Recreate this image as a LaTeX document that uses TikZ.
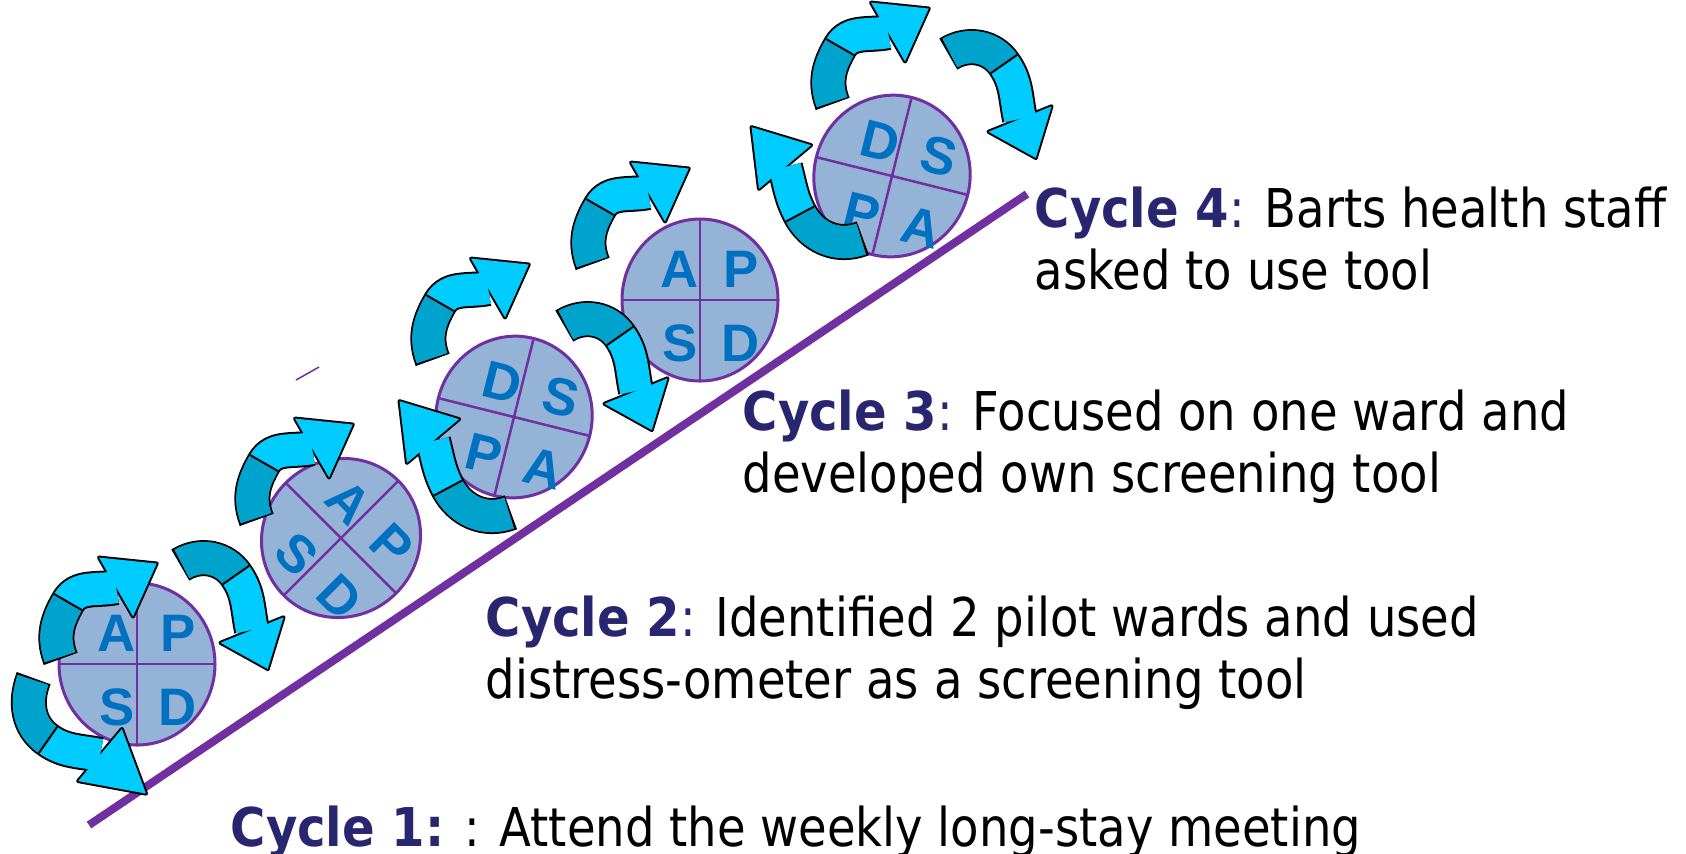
\documentclass[tikz,border=0pt]{standalone}
\usepackage{fontspec}
\setmainfont{DejaVu Sans}[FakeStretch=0.87, BoldFeatures={FakeStretch=0.9}]
\newfontfamily\pdsafont{Liberation Sans}
\usetikzlibrary{calc}

\definecolor{cyclenavy}{RGB}{41,38,112}
\definecolor{wheelfill}{RGB}{149,179,215}
\definecolor{wheelrim}{RGB}{112,48,160}
\definecolor{pdsablue}{RGB}{0,112,192}
\definecolor{arrowlight}{RGB}{0,204,255}
\definecolor{arrowdark}{RGB}{0,163,204}

\tikzset{
  wheel/.style={draw=wheelrim, fill=wheelfill, line width=0.03cm},
  wheelcross/.style={draw=wheelrim, line width=0.025cm},
  pdsaletter/.style={text=pdsablue, font=\pdsafont\bfseries\fontsize{15}{15}\selectfont, inner sep=0pt},
  bandrim/.style={draw=black, line width=0.36cm},
  bandlight/.style={draw=arrowlight, line width=0.32cm},
  banddark/.style={draw=arrowdark, line width=0.32cm},
  headrim/.style={draw=black, fill=black, line width=0.04cm, line join=round},
  twistedge/.style={draw=black, line width=0.02cm},
  cycletext/.style={anchor=base west, align=left, inner sep=0pt, font=\fontsize{15.2}{17.6}\selectfont},
}

\newcommand{\cyc}[1]{\textcolor{cyclenavy}{\textbf{#1}}}

% curved block arrow: start, out angle, mid, mid angle, head base, base angle, head angle, head length
\newcommand{\bentarrow}[8]{%
  \pgfmathsetmacro{\inmid}{#4+180}%
  \pgfmathsetmacro{\inend}{#6+180}%
  \pgfmathsetmacro{\backang}{#2+180}%
  \pgfmathsetmacro{\barbl}{#7+90}%
  \pgfmathsetmacro{\barbr}{#7-90}%
  \pgfmathsetmacro{\midl}{#4+90}%
  \pgfmathsetmacro{\midr}{#4-90}%
  \coordinate (tail) at ($(#1)+(\backang:0.02cm)$);
  \coordinate (tip) at ($(#5)+(#7:#8)$);
  \coordinate (barbl) at ($(#5)+(\barbl:0.34cm)$);
  \coordinate (barbr) at ($(#5)+(\barbr:0.34cm)$);
  \draw[bandrim] (tail) -- (#1) to[out=#2,in=\inmid] (#3) to[out=#4,in=\inend] (#5);
  \draw[headrim] (barbl) -- (tip) -- (barbr) -- cycle;
  \draw[bandlight] (#1) to[out=#2,in=\inmid] (#3) to[out=#4,in=\inend] (#5);
  \draw[banddark] (#1) to[out=#2,in=\inmid] (#3);
  \fill[arrowlight] (barbl) -- (tip) -- (barbr) -- cycle;
  \draw[twistedge] ($(#3)+(\midl:0.16cm)$) -- ($(#3)+(\midr:0.16cm)$);
}

% PDSA wheel: name, x, y, rotation, four letters
\newcommand{\pdsawheel}[8]{%
  \begin{scope}[shift={(#2,#3)},rotate=#4]
    \draw[wheel] (0,0) ellipse [x radius=78, y radius=81];
    \draw[wheelcross] (-78,0) -- (78,0) (0,-81) -- (0,81);
    \node[pdsaletter,rotate=#4] (#1tl) at (-20,-31) {#5};
    \node[pdsaletter,rotate=#4] (#1tr) at (41,-31) {#6};
    \node[pdsaletter,rotate=#4] (#1bl) at (-20,43) {#7};
    \node[pdsaletter,rotate=#4] (#1br) at (41,43) {#8};
  \end{scope}}

\tikzset{
  toparrow/.pic={\bentarrow{0,0}{110}{8,-55}{60}{56,-70}{12}{30}{0.47cm}},
  rightarrow/.pic={\bentarrow{0,0}{30}{54,11}{-55}{70,66}{-78}{-68}{0.42cm}},
  leftarrow/.pic={\bentarrow{0,0}{200}{-61,-25}{118}{-76,-72}{105}{130}{0.52cm}},
  bottomarrow/.pic={\bentarrow{0,0}{250}{15,60}{-35}{67,75}{-12}{-40}{0.6cm}},
}

\begin{document}
\begin{tikzpicture}[x=0.01cm,y=-0.01cm]
\useasboundingbox (0,0) rectangle (1686,853);

% wheels
\pdsawheel{w1}{137}{664}{0}{A}{P}{S}{D}
\pdsawheel{w2}{341}{538}{-45}{A}{P}{S}{D}
\pdsawheel{w3}{514}{417}{-14}{D}{S}{P}{A}
\pdsawheel{w4}{700}{300}{0}{A}{P}{S}{D}
\pdsawheel{w5}{892}{176}{-14}{D}{S}{P}{A}

% rising line
\draw[wheelrim, line width=0.08cm] (89,825) -- (1027,194);
\draw[wheelrim, line width=0.015cm] (296,380) -- (319,367);

% arrows round the wheels
\foreach \p in {(60,657),(256,518),(432,358),(592,262),(832,102)}
  \pic at \p {toparrow};
\foreach \p in {(182,564),(566,325),(950,53)}
  \pic at \p {rightarrow};
\foreach \p in {(509,513),(861,239)}
  \pic at \p {leftarrow};
\pic at (33,680) {bottomarrow};

% labels (base of the last line)
\node[cycletext] (cyc4) at (1034,289) {\cyc{Cycle 4}\textcolor{cyclenavy}{:} Barts health staff\\asked to use tool};
\node[cycletext] (cyc3) at (742,492) {\cyc{Cycle 3}\textcolor{cyclenavy}{:} Focused on one ward and\\developed own screening tool};
\node[cycletext] (cyc2) at (485,698) {\cyc{Cycle 2}\textcolor{cyclenavy}{:} Identified 2 pilot wards and used\\distress-ometer as a screening tool};
\node[cycletext] (cyc1) at (230,846) {\cyc{Cycle 1:} : Attend the weekly long-stay meeting};

\end{tikzpicture}
\end{document}
